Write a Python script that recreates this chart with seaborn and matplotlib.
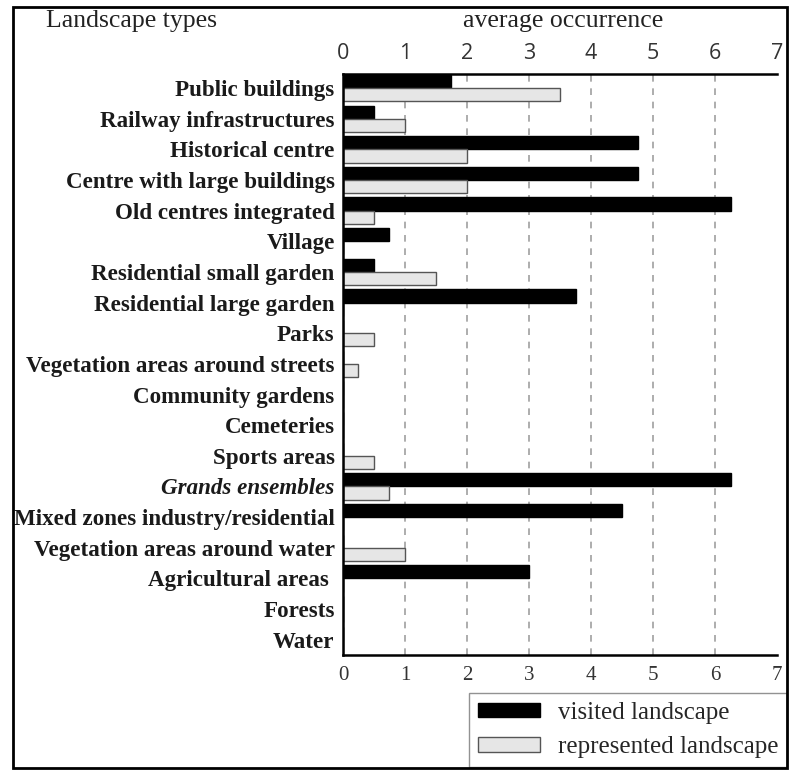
import numpy as np
import pandas as pd
import matplotlib
matplotlib.use("Agg")
import matplotlib.pyplot as plt
import seaborn as sns
from matplotlib.patches import Rectangle

# landscape types, top to bottom
types = ["Public buildings", "Railway infrastructures", "Historical centre",
         "Centre with large buildings", "Old centres integrated", "Village",
         "Residential small garden", "Residential large garden", "Parks",
         "Vegetation areas around streets", "Community gardens", "Cemeteries",
         "Sports areas", "Grands ensembles", "Mixed zones industry/residential",
         "Vegetation areas around water", "Agricultural areas ", "Forests", "Water"]
visited = [1.75, 0.5, 4.75, 4.75, 6.25, 0.75, 0.5, 3.75, 0, 0, 0, 0, 0, 6.25, 4.5, 0, 3.0, 0, 0]
represented = [3.5, 1.0, 2.0, 2.0, 0.5, 0, 1.5, 0, 0.5, 0.25, 0, 0, 0.5, 0.75, 0, 1.0, 0, 0, 0]
series_names = ["visited landscape", "represented landscape"]
xticks = [0, 1, 2, 3, 4, 5, 6, 7]

df = pd.DataFrame({
    "type": types * 2,
    "value": visited + represented,
    "series": [series_names[0]] * len(types) + [series_names[1]] * len(types),
})

sns.set_style("white")
plt.rcParams['font.family'] = ['Liberation Serif', 'DejaVu Serif']

fig = plt.figure(figsize=(8.04, 7.83), dpi=100)
ax = fig.add_axes([343 / 804, 1 - 655 / 783, 434 / 804, 581 / 783])

sns.barplot(data=df, y="type", x="value", hue="series", orient="h",
            palette=["black", "#e6e6e6"], width=0.86, ax=ax, legend=True)

# edges of the bars
for cont, ec in zip(ax.containers, ["black", "#555555"]):
    for bar in cont:
        bar.set_edgecolor(ec)
        bar.set_linewidth(1.0)

ax.set_xlim(0, 7)
ax.set_ylim(len(types) - 0.5, -0.46)
ax.set_xticks(xticks)
ax.set_xticklabels([str(t) for t in xticks], fontsize=15, color="#333333")
ax.tick_params(axis="both", length=0)
ax.tick_params(axis="x", pad=8)
ax.tick_params(axis="y", pad=6)
ax.set_xlabel("")
ax.set_ylabel("")

ylabels = ax.get_yticklabels()
for lab in ylabels:
    lab.set_fontweight("bold")
    lab.set_fontsize(16.6)
    lab.set_color("#1a1a1a")
    if lab.get_text() == "Grands ensembles":
        lab.set_fontstyle("italic")

# dashed grid
ax.grid(axis="x", linestyle=(0, (4, 4)), color="#a0a0a0", linewidth=1.2)
ax.set_axisbelow(True)
gl = ax.get_xgridlines()
gl[0].set_visible(False)
gl[-1].set_visible(False)

for side in ["left", "top", "bottom"]:
    ax.spines[side].set_visible(True)
    ax.spines[side].set_color("black")
    ax.spines[side].set_linewidth(1.8)
ax.spines["right"].set_visible(False)

# top axis labels
top = ax.secondary_xaxis("top")
top.set_xticks(xticks)
top.set_xticklabels([str(t) for t in xticks], fontsize=15.5, color="#333333",
                    family=["Open Sans", "DejaVu Sans"])
top.tick_params(length=0, pad=7)
top.spines["top"].set_visible(False)

fig.text(563 / 804, 1 - 21 / 783, "average occurrence", ha="center", va="center",
         fontsize=18.5, color="#222222", family=["Liberation Serif"])
fig.text(132 / 804, 1 - 21 / 783, "Landscape types", ha="center", va="center",
         fontsize=18.5, color="#222222", family=["Liberation Serif"])

# legend
handles, labels = ax.get_legend_handles_labels()
leg = ax.legend(handles, labels, loc="lower right",
                bbox_to_anchor=(787 / 804, 1 - 767 / 783), bbox_transform=fig.transFigure,
                fontsize=18, frameon=True, fancybox=False, handlelength=2.5,
                handleheight=0.5, borderpad=0.35, labelspacing=0.5, handletextpad=0.7,
                borderaxespad=0)
leg.get_frame().set_edgecolor("#777777")
leg.get_frame().set_linewidth(1.0)
for h, ec in zip(leg.legend_handles, ["black", "#555555"]):
    h.set_edgecolor(ec)
    h.set_linewidth(1.0)

# outer frame
fig.add_artist(Rectangle((13 / 804, 1 - 768 / 783), 774 / 804, 761 / 783,
                         transform=fig.transFigure, fill=False,
                         edgecolor="black", linewidth=2))

fig.savefig("out.png", dpi=100)
